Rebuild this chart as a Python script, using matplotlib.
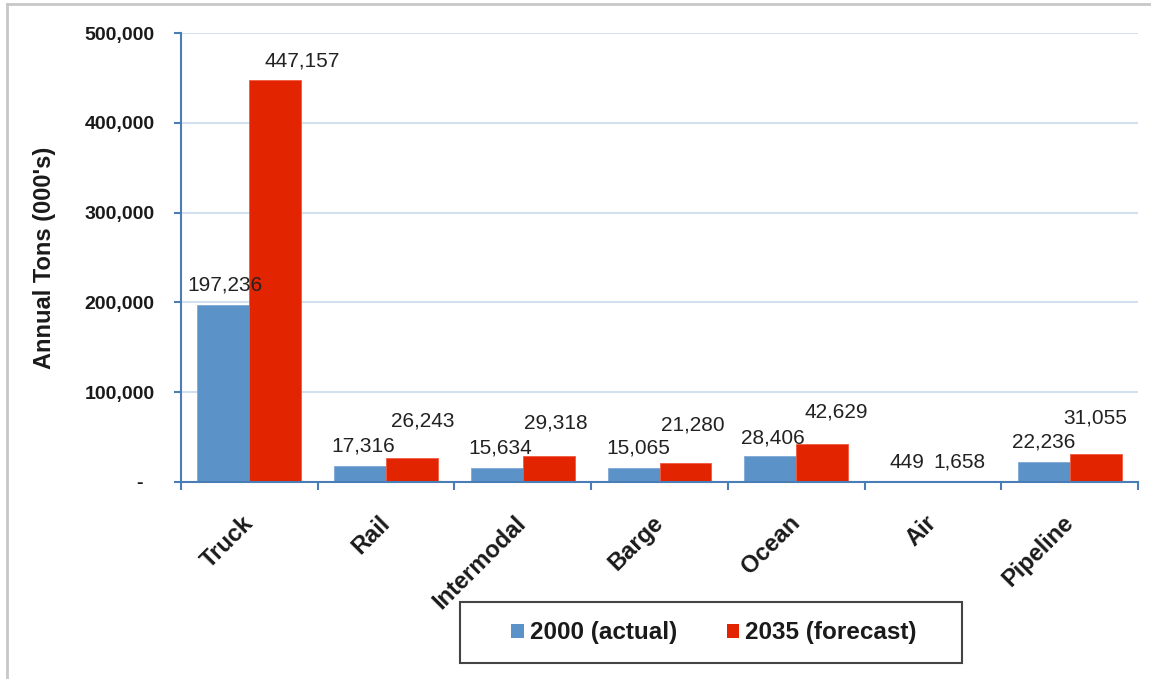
import matplotlib
matplotlib.use("Agg")
import matplotlib.pyplot as plt
from matplotlib.patches import Rectangle
from matplotlib.lines import Line2D
import numpy as np

categories = ["Truck", "Rail", "Intermodal", "Barge", "Ocean", "Air", "Pipeline"]
actual_2000 = [197236, 17316, 15634, 15065, 28406, 449, 22236]
forecast_2035 = [447157, 26243, 29318, 21280, 42629, 1658, 31055]
series_names = ["2000 (actual)", "2035 (forecast)"]
y_ticks = [0, 100000, 200000, 300000, 400000, 500000]

# label placement offsets (pixels) - style only
blue_dx = [2, 3, 3, 5, 3, 0, 0]
blue_dy = [20, 20, 20, 20, 18, 19, 20]
red_dx = [27, 11, 7, 7, 14, 1, 0]
red_dy = [19, 37, 33, 38, 32, 19, 36]

plt.rcParams['font.family'] = ['Liberation Sans', 'DejaVu Sans']

W, H = 1151, 679
fig = plt.figure(figsize=(W / 100, H / 100), dpi=100)
fig.patch.set_facecolor("white")

def fx(px):
    return px / W

def fy(py):
    return 1 - py / H

ax = fig.add_axes([fx(181), fy(482), fx(1138) - fx(181), fy(33) - fy(482)])

blue = "#5B93C8"
red = "#E32400"
axis_col = "#4A7DB5"
grid_col = "#D3E0EF"
txt_col = "#1A1A1A"

x = np.arange(len(categories))
bw = 0.38
ax.bar(x - bw / 2, actual_2000, bw, color=blue, edgecolor="#7FAAD6", linewidth=0.6, zorder=3, label=series_names[0])
ax.bar(x + bw / 2, forecast_2035, bw, color=red, edgecolor="#F05A40", linewidth=0.6, zorder=3, label=series_names[1])

for i in range(len(categories)):
    ax.annotate(f"{actual_2000[i]:,}", (x[i] - bw / 2, actual_2000[i]),
                xytext=(blue_dx[i], blue_dy[i]), textcoords="offset pixels",
                ha="center", va="center", fontsize=15, color="#222222", zorder=5)
    ax.annotate(f"{forecast_2035[i]:,}", (x[i] + bw / 2, forecast_2035[i]),
                xytext=(red_dx[i], red_dy[i]), textcoords="offset pixels",
                ha="center", va="center", fontsize=15, color="#222222", zorder=5)

ax.set_xlim(-0.5, len(categories) - 0.5)
ax.set_ylim(0, 500000)

ax.set_yticks(y_ticks)
ax.set_yticklabels([f"{v:,}" if v else "-  " for v in y_ticks], fontsize=14, fontweight="bold", color=txt_col)
ax.tick_params(axis="y", direction="out", length=5, width=1.5, color=axis_col, pad=14)

ax.set_xticks(np.arange(-0.5, len(categories), 1.0))
ax.set_xticklabels([])
ax.tick_params(axis="x", which="major", direction="out", length=6, width=1.5, color=axis_col)
ax.set_xticks(x, minor=True)
ax.set_xticklabels(categories, minor=True, fontsize=17, fontweight="bold", color=txt_col)
ax.tick_params(axis="x", which="minor", length=0, pad=27)
for lab in ax.get_xticklabels(minor=True):
    lab.set_rotation(45)
    lab.set_ha("right")
    lab.set_va("center")
    lab.set_rotation_mode("anchor")

ax.grid(axis="y", color=grid_col, linewidth=1.5, zorder=0)
ax.set_axisbelow(True)
for s in ["top", "right"]:
    ax.spines[s].set_visible(False)
for s in ["left", "bottom"]:
    ax.spines[s].set_color(axis_col)
    ax.spines[s].set_linewidth(1.5)
    ax.spines[s].set_zorder(4)

ax.set_ylabel("Annual Tons (000's)", fontsize=17, fontweight="bold", color=txt_col)
ax.yaxis.set_label_coords((56 - 181) / (1138 - 181), 0.5)

# figure border (top and left visible)
fig.add_artist(Line2D([fx(7), 1], [fy(4), fy(4)], color="#C8C8C8", linewidth=2, transform=fig.transFigure))
fig.add_artist(Line2D([fx(7), fx(7)], [fy(4), 0], color="#C8C8C8", linewidth=2, transform=fig.transFigure))

# legend frame
fig.add_artist(Rectangle((fx(460), fy(663)), fx(962) - fx(460), fy(602) - fy(663),
                         transform=fig.transFigure, fill=False, edgecolor="#444444", linewidth=1.5))
handles, labels = ax.get_legend_handles_labels()
leg = fig.legend(handles, labels, loc="center", bbox_to_anchor=(fx(714), fy(633)),
                 ncol=2, frameon=False, prop={"size": 17.5, "weight": "bold"},
                 handlelength=0.5, handleheight=0.5, handletextpad=0.25, columnspacing=2.05)
for h in leg.legend_handles:
    h.set_linewidth(0)
for t in leg.get_texts():
    t.set_color(txt_col)

fig.savefig("out.png", dpi=100, facecolor="white")
